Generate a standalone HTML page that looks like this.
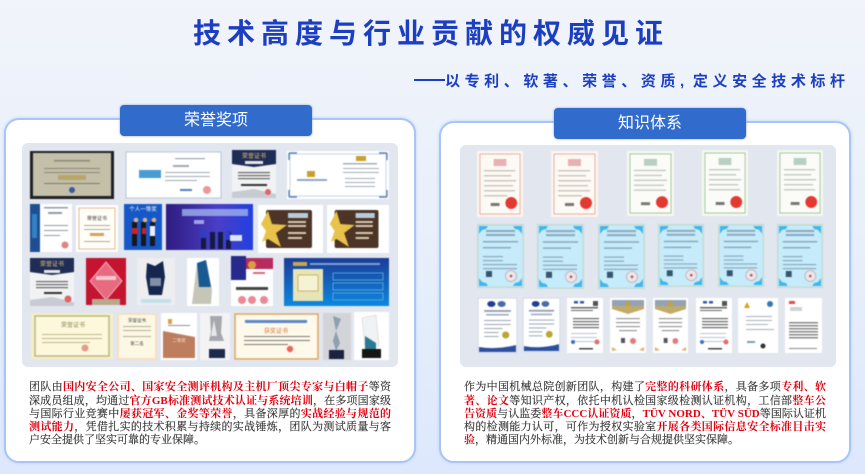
<!DOCTYPE html>
<html lang="zh"><head><meta charset="utf-8"><style>
html,body{margin:0;padding:0}
body{width:865px;height:474px;position:relative;overflow:hidden;background:linear-gradient(180deg,#f1f4fa 0,#e9f0fa 45%,#dde8fc 100%);font-family:"Liberation Sans","Noto Sans CJK SC",sans-serif}
.a{position:absolute}
.card{background:#fff;border:2px solid #a9c5f8;border-radius:15px;box-sizing:border-box;box-shadow:0 0 3px #bcd2fb}
.tab{background:#316ccc;color:#fff;border-radius:4px;font-size:16px;line-height:31px;text-align:center;box-shadow:0 0 2px #7f9fdc}
.panel{background:#e2e6ef;border-radius:6px}
.l{position:absolute;height:14px;font:11px/14px "Liberation Serif","Noto Serif CJK SC",serif;color:#333;text-align:justify;text-align-last:justify;white-space:nowrap;-webkit-text-stroke:.15px #333}
.l b{color:#e00010;font-weight:700;-webkit-text-stroke:0}
</style></head><body>
<div class="a" style="left:193px;top:15px;width:470px;font-size:28px;line-height:38px;font-weight:700;color:#1c3fc2;text-align:justify;text-align-last:justify;white-space:nowrap">技术高度与行业贡献的权威见证</div>
<div class="a" style="left:414px;top:79px;width:31px;height:1.5px;background:#1c3fc2"></div>
<div class="a" style="left:445px;top:71px;width:400px;font-size:15px;line-height:22px;font-weight:700;color:#1c3fc2;text-align:justify;text-align-last:justify;white-space:nowrap">以专利、软著、荣誉、资质, 定义安全技术标杆</div>

<div class="a card" style="left:4px;top:118px;width:412px;height:345px"></div>
<div class="a card" style="left:439px;top:121px;width:412px;height:342px"></div>
<div class="a tab" style="left:120px;top:105px;width:192px;height:31px">荣誉奖项</div>
<div class="a tab" style="left:554px;top:108px;width:192px;height:31px">知识体系</div>
<div class="a panel" style="left:22px;top:143px;width:376px;height:224px"></div>
<div class="a panel" style="left:460px;top:145px;width:376px;height:222px"></div>

<svg class="a" style="left:0;top:0;filter:blur(.5px)" width="865" height="474" viewBox="0 0 865 474" font-family="Liberation Sans,Noto Sans CJK SC,sans-serif">
<defs>
<symbol id="pink" viewBox="0 0 47 66" preserveAspectRatio="none"><rect width="47" height="66" fill="#fdf6ee"/><rect x="3" y="3" width="41" height="60" fill="#fdfaf5" stroke="#e0a090" stroke-width=".8"/><rect x="17" y="8" width="13" height="7" fill="#e8b0b0"/><g fill="#cdc6c0"><rect x="7" y="19" width="32" height="1.5"/><rect x="7" y="24" width="28" height="1.5"/><rect x="7" y="29" width="33" height="1.5"/><rect x="7" y="34" width="30" height="1.5"/><rect x="7" y="39" width="32" height="1.5"/><rect x="7" y="44" width="24" height="1.5"/></g><rect x="14" y="52" width="9" height="3" fill="#777"/><circle cx="35" cy="52" r="6" fill="#e23a30"/></symbol>
<symbol id="green" viewBox="0 0 47 66" preserveAspectRatio="none"><rect width="47" height="66" fill="#f6f7ee"/><rect x="3" y="3" width="41" height="60" fill="#fbfcf7" stroke="#8fbb95" stroke-width=".8"/><rect x="17" y="8" width="13" height="7" fill="#b9cfc4"/><g fill="#c8ccc6"><rect x="7" y="19" width="32" height="1.5"/><rect x="7" y="24" width="28" height="1.5"/><rect x="7" y="29" width="33" height="1.5"/><rect x="7" y="34" width="30" height="1.5"/><rect x="7" y="39" width="32" height="1.5"/></g><rect x="14" y="52" width="9" height="3" fill="#777"/><circle cx="35" cy="52" r="6" fill="#e23a30"/></symbol>
<symbol id="blue" viewBox="0 0 47 64" preserveAspectRatio="none"><rect width="47" height="64" fill="#c4dbd4"/><rect x="1.5" y="1.5" width="44" height="61" fill="#c6ebfa"/><g fill="#42b6ea"><path d="M2 2h9l-2 3-4 1-3 4z"/><path d="M45 2h-9l2 3 4 1 3 4z"/><path d="M2 62h9l-2-3-4-1-3-4z"/><path d="M45 62h-9l2-3 4-1 3-4z"/></g><g fill="#8ba9bd"><rect x="9" y="6" width="29" height="2"/><rect x="9" y="10" width="29" height="2"/><rect x="6" y="17" width="35" height="1.5"/><rect x="6" y="23" width="28" height="1.5"/><rect x="6" y="32" width="20" height="1.2"/><rect x="6" y="36" width="20" height="1.2"/><rect x="6" y="40" width="34" height="1.2"/><rect x="6" y="44" width="34" height="1.2"/></g><rect x="9" y="47" width="6" height="6" fill="#35566d"/><circle cx="34" cy="52" r="5.5" fill="#e5e9ee" stroke="#c9b4bd"/><circle cx="34" cy="52" r="1.3" fill="#e04040"/></symbol>
<symbol id="iso" viewBox="0 0 38 55" preserveAspectRatio="none"><rect width="38" height="55" fill="#fff" stroke="#b8bccc" stroke-width=".8"/><ellipse cx="13" cy="6" rx="4" ry="3" fill="#1f3f96"/><ellipse cx="23" cy="6" rx="4" ry="3" fill="#4a6ba8"/><g fill="#9aa3b8"><rect x="6" y="12" width="26" height="2"/><rect x="8" y="16" width="22" height="1.5"/><rect x="6" y="22" width="26" height="1"/><rect x="6" y="26" width="26" height="1"/><rect x="6" y="30" width="18" height="1"/><rect x="6" y="34" width="14" height="1"/><rect x="6" y="38" width="14" height="1"/></g><circle cx="27" cy="37" r="3.5" fill="#b8a832"/><path d="M1 49q18 3 36-2v7H1z" fill="#2c4f9f"/></symbol>
<symbol id="doc" viewBox="0 0 36 55" preserveAspectRatio="none"><rect width="36" height="55" fill="#fff"/><g fill="#2f5aa8"><rect x="7" y="3" width="4" height="2.5"/><rect x="13" y="3" width="4" height="2.5"/></g><rect x="26" y="3" width="5" height="5" fill="#555"/><g fill="#666"><rect x="4" y="9" width="27" height="1.5"/><rect x="4" y="12" width="22" height="1"/><rect x="6" y="20" width="26" height="1.2"/><rect x="6" y="23" width="26" height="1.2"/><rect x="6" y="26" width="26" height="1.2"/><rect x="6" y="29" width="26" height="1.2"/></g><g fill="#b9c4d6"><rect x="4" y="35" width="26" height="1"/><rect x="4" y="39" width="26" height="1"/><rect x="4" y="43" width="26" height="1"/></g><circle cx="6" cy="44" r="2" fill="#3c6fc0"/><circle cx="30" cy="44" r="2.5" fill="#e86a6a"/><rect x="12" y="50" width="14" height="1.5" fill="#444"/></symbol>
<symbol id="gold" viewBox="0 0 36 55" preserveAspectRatio="none"><rect width="36" height="55" fill="#fff"/><path d="M2 2h32v9l-16 5L2 11z" fill="#c0ab6c"/><path d="M2 2h32v6H2z" fill="#93a3b5"/><circle cx="18" cy="6" r="2.5" fill="#c8a23a"/><g fill="#999"><rect x="6" y="20" width="24" height="1.2"/><rect x="6" y="24" width="24" height="1.2"/><rect x="6" y="28" width="24" height="1.2"/><rect x="9" y="32" width="18" height="1.2"/></g><rect x="11" y="40" width="4" height="5" fill="#556"/><circle cx="23" cy="43" r="3" fill="#e27c7c"/><path d="M2 53l5-1-5-3zM34 53l-5-1 5-3z" fill="#d6b76b"/></symbol>
<symbol id="star" viewBox="0 0 65 48" preserveAspectRatio="none"><rect width="65" height="48" fill="#fff"/><rect x="8" y="5" width="46" height="38" rx="2" fill="#4c3527"/><path d="M10 6l4 13 15 1-11 8 5 14-13-8-6 3 4-11-5-7z" fill="#e8c24a"/><rect x="30" y="8" width="20" height="5" fill="#b8ccd8"/><g fill="#d8c8b0"><rect x="30" y="16" width="18" height="2"/><rect x="30" y="20" width="18" height="2"/><rect x="30" y="27" width="18" height="2"/><rect x="30" y="32" width="14" height="2"/></g></symbol>
</defs>

<!-- left row 1 -->
<rect x="30" y="151" width="84" height="48" fill="#1f2126"/><rect x="33" y="153" width="78" height="43" fill="#c3bfa8"/><g fill="#8a8a78"><rect x="54" y="160" width="36" height="1.5"/><rect x="44" y="168" width="56" height="1"/><rect x="44" y="172" width="56" height="1"/></g><rect x="58" y="175" width="28" height="5" fill="#b7a66a"/><rect x="44" y="183" width="56" height="1" fill="#7d7a70"/><circle cx="72" cy="190" r="3" fill="#3a5c9a"/>
<rect x="126" y="152" width="95" height="46" fill="#fff" stroke="#b9c5d8"/><rect x="139" y="170" width="22" height="8" fill="#4a9bd4"/><g fill="#a0a7b4"><rect x="175" y="158" width="30" height="1.2"/><rect x="173" y="165" width="16" height="2"/><rect x="165" y="172" width="45" height="1"/><rect x="165" y="176" width="45" height="1"/><rect x="165" y="180" width="32" height="1"/></g><circle cx="207" cy="190" r="4" fill="#e69a9a"/><rect x="180" y="189" width="12" height="2" fill="#5a7dbb"/>
<rect x="232" y="150" width="44" height="48" fill="#f1f2f3"/><path d="M232 150h44v14l-22 3-22-3z" fill="#1f2c55"/><text x="254" y="158" text-anchor="middle" font-size="6" fill="#e3c37b">荣誉证书</text><rect x="245" y="161" width="18" height="3" fill="#e8e8e8"/><g fill="#666"><rect x="238" y="172" width="32" height="1.2"/><rect x="238" y="175" width="32" height="1.2"/><rect x="238" y="178" width="32" height="1.2"/></g><rect x="241" y="184" width="26" height="2" fill="#333"/><path d="M232 198v-6l22-3 22 5v4z" fill="#c8ccd2"/><circle cx="268" cy="192" r="3" fill="#dd6666"/>
<rect x="287" y="151" width="102" height="48" fill="#fff"/><rect x="290" y="154" width="96" height="42" fill="none" stroke="#c9d6ea"/><path d="M289 153h8M289 153v7M387 153h-8M387 153v7M289 197h8M289 197v-7M387 197h-8M387 197v-7" stroke="#5d80b8" stroke-width="1.4"/><rect x="307" y="171" width="8" height="6" fill="#c9a030"/><rect x="297" y="179" width="30" height="2" fill="#91a6c8"/><rect x="356" y="156" width="10" height="5" fill="#c9a030"/><g fill="#a4adbb"><rect x="343" y="163" width="34" height="1.5"/><rect x="343" y="168" width="36" height="1"/><rect x="343" y="172" width="36" height="1"/><rect x="345" y="178" width="30" height="1"/><rect x="345" y="182" width="30" height="1"/><rect x="345" y="186" width="30" height="1"/></g>
<!-- left row 2 -->
<rect x="30" y="204" width="42" height="48" fill="#fff"/><rect x="30" y="204" width="10" height="48" fill="#1f4f91"/><rect x="32" y="214" width="5" height="24" fill="#3182c4"/><g fill="#8f99ad"><rect x="44" y="207" width="24" height="1.5"/><rect x="48" y="212" width="14" height="2"/><rect x="44" y="225" width="24" height="1"/><rect x="44" y="230" width="24" height="1"/><rect x="44" y="235" width="16" height="1"/></g><circle cx="65" cy="245" r="3.5" fill="#e08585"/>
<rect x="76" y="205" width="42" height="47" fill="#fff"/><rect x="79" y="208" width="36" height="41" fill="#fffdf8" stroke="#e2ba8c"/><text x="97" y="220" text-anchor="middle" font-size="5" fill="#444">荣誉证书</text><g fill="#b0a898"><rect x="84" y="225" width="26" height="1"/><rect x="84" y="229" width="26" height="1"/></g><rect x="90" y="233" width="14" height="3" fill="#d6a25b"/><rect x="84" y="241" width="26" height="1" fill="#b0a898"/>
<rect x="123" y="203" width="40" height="49" fill="#e8eaef"/><rect x="124" y="204" width="38" height="46" fill="#1658c8"/><text x="143" y="211" text-anchor="middle" font-size="5.5" fill="#fff">个人一等奖</text><g fill="#15181c"><rect x="132" y="222" width="5" height="24"/><rect x="141" y="222" width="5" height="24"/><rect x="150" y="222" width="5" height="24"/></g><circle cx="136" cy="220" r="2.3" fill="#d6b090"/><circle cx="145" cy="220" r="2.3" fill="#d6b090"/><circle cx="154" cy="220" r="2.3" fill="#d6b090"/><rect x="132" y="228" width="6" height="6" fill="#d02020"/><rect x="142" y="228" width="4" height="6" fill="#cc2222"/><rect x="150" y="226" width="5" height="10" fill="#eef"/>
<defs><linearGradient id="vio" x1="0" x2="1"><stop offset="0" stop-color="#2f1c80"/><stop offset=".6" stop-color="#4b3ec8"/><stop offset="1" stop-color="#2140e0"/></linearGradient><linearGradient id="blu" x1="0" x2="0" y1="0" y2="1"><stop offset="0" stop-color="#1b3c97"/><stop offset="1" stop-color="#0c88e0"/></linearGradient></defs>
<rect x="166" y="204" width="87" height="46" fill="url(#vio)"/><rect x="182" y="209" width="66" height="7" fill="#9fb2ee" opacity=".8"/><rect x="194" y="220" width="10" height="4" fill="#c8d2ff" opacity=".7"/><g fill="#141a44"><rect x="201" y="230" width="5" height="19"/><rect x="210" y="232" width="5" height="17"/><rect x="218" y="232" width="5" height="17"/><rect x="226" y="232" width="5" height="17"/></g><rect x="230" y="235" width="12" height="6" fill="#dfe6f6"/><rect x="201" y="229" width="5" height="9" fill="#2a3fc4"/><rect x="226" y="231" width="4" height="9" fill="#2a3fc4"/>
<use href="#star" x="258" y="205" width="65" height="48"/><use href="#star" x="327" y="205" width="62" height="48"/>
<!-- left row 3 -->
<rect x="30" y="258" width="44" height="48" fill="#f1f2f3"/><path d="M30 258h44v14l-22 3-22-3z" fill="#1f2c55"/><text x="52" y="266" text-anchor="middle" font-size="6" fill="#e3c37b">荣誉证书</text><rect x="44" y="270" width="16" height="3" fill="#e8e8e8"/><g fill="#666"><rect x="36" y="281" width="32" height="1.2"/><rect x="36" y="284" width="32" height="1.2"/><rect x="36" y="287" width="32" height="1.2"/></g><rect x="44" y="292" width="18" height="2" fill="#333"/><path d="M30 306v-6l22-3 22 5v4z" fill="#c8ccd2"/><circle cx="68" cy="299" r="3.5" fill="#dd6666"/>
<rect x="86" y="258" width="40" height="47" fill="#c4142f"/><path d="M106 262l16 19-16 19-16-19z" fill="#e86a80" stroke="#f3a8b5"/><rect x="96" y="276" width="20" height="4" fill="#f8c8d0"/><rect x="92" y="299" width="28" height="6" fill="#b9a88c"/>
<rect x="137" y="258" width="38" height="47" fill="#eeeef0"/><path d="M147 263l8 3 8-5 2 16-3 18h-13l-3-18z" fill="#16274f"/><rect x="150" y="278" width="11" height="8" fill="#7f8fa6"/><rect x="141" y="299" width="30" height="4" fill="#c2e0ea"/>
<rect x="187" y="258" width="32" height="48" fill="#fff"/><path d="M197 263l9-3 6 30-1 14h-19z" fill="#c6c6b8"/><path d="M197 263l9-3 5 27h-12z" fill="#1a5a92"/>
<rect x="231" y="258" width="42" height="48" fill="#fff"/><rect x="231" y="256" width="15" height="24" fill="#262a8c"/><path d="M246 258h27v11h-27z" fill="#b92b5e"/><circle cx="252" cy="265" r="4" fill="#d8a040"/><rect x="253" y="272" width="12" height="2" fill="#d06a80"/><rect x="236" y="287" width="32" height="3" fill="#444"/><g fill="#ea8a95"><circle cx="242" cy="300" r="4"/><circle cx="252" cy="300" r="4"/><circle cx="264" cy="300" r="4"/></g>
<rect x="284" y="258" width="105" height="48" fill="url(#blu)"/><rect x="293" y="262" width="14" height="4" fill="#c9a84a"/><rect x="310" y="263" width="70" height="2" fill="#7f9fd8"/><rect x="293" y="269" width="30" height="32" fill="#e8e4b8"/><rect x="298" y="275" width="20" height="16" fill="#f6f2d4" stroke="#c9b86e"/><g stroke="#5fb0e0" stroke-width=".8" fill="none"><rect x="333" y="273" width="50" height="7"/><rect x="333" y="283" width="50" height="7"/><rect x="333" y="293" width="50" height="7"/></g>
<!-- left row 4 -->
<rect x="31" y="313" width="82" height="46" fill="#f5eec8"/><rect x="35" y="316" width="74" height="40" fill="#fdf8dc" stroke="#b9ba82" stroke-width="1.5"/><text x="73" y="327" text-anchor="middle" font-size="6" fill="#868a55">荣誉证书</text><g fill="#bdb88c"><rect x="42" y="334" width="60" height="1"/><rect x="42" y="338" width="60" height="1"/><rect x="42" y="342" width="48" height="1"/></g><circle cx="85" cy="348" r="3.5" fill="#e89a8c"/>
<rect x="117" y="313" width="40" height="47" fill="#f8dfc0"/><rect x="119" y="315" width="36" height="43" fill="#fdf8e4"/><text x="137" y="322" text-anchor="middle" font-size="4.5" fill="#444">荣誉证书</text><g fill="#b5ad98"><rect x="123" y="326" width="28" height="1"/><rect x="123" y="330" width="28" height="1"/><rect x="123" y="336" width="28" height="1"/></g><text x="137" y="345" text-anchor="middle" font-size="4.5" fill="#444">第二名</text>
<rect x="161" y="313" width="36" height="47" fill="#fff"/><rect x="163" y="331" width="32" height="27" fill="#bd7d5e"/><path d="M163 331l32 6v-6z" fill="#fff"/><rect x="168" y="319" width="4" height="5" fill="#e0a040"/><rect x="168" y="325" width="22" height="1" fill="#8a92a8"/><text x="179" y="342" text-anchor="middle" font-size="4.5" fill="#fbe4d6">二等奖</text>
<rect x="200" y="313" width="30" height="47" fill="#f3f3f4"/><path d="M210 316h12l-1 17 3 8h-15l2-9z" fill="#a5a8ad"/><path d="M214 320l3 16h-6z" fill="#e6e8ec"/><rect x="209" y="349" width="16" height="9" fill="#1d2b4c"/>
<rect x="234" y="313" width="85" height="47" fill="#fff"/><rect x="235" y="314" width="83" height="45" fill="#fff9ec" stroke="#d8a35e" stroke-width="1.5"/><rect x="245" y="320" width="62" height="3" fill="#5c87c9"/><text x="276" y="333" text-anchor="middle" font-size="6" fill="#cc7a3a">获奖证书</text><g fill="#7a7872"><rect x="244" y="336" width="66" height="1"/><rect x="244" y="340" width="66" height="1"/><rect x="244" y="344" width="44" height="1"/></g><circle cx="290" cy="349" r="3.2" fill="#e26a5a"/>
<rect x="323" y="313" width="28" height="47" fill="#d3d4d8"/><path d="M333 316l8 3-5 12 4 12-4 8-3-10 3-10z" fill="#8ca0b0"/><rect x="329" y="350" width="15" height="9" fill="#1a2240"/>
<rect x="354" y="312" width="35" height="48" fill="#fff"/><path d="M362 318l14-3 3 31h-14z" fill="#f1f2f3" stroke="#cccccc" stroke-width=".5"/><path d="M365 336l11 7v6h-11z" fill="#2a7a92"/><rect x="362" y="349" width="19" height="9" fill="#161616"/>

<!-- right -->
<use href="#pink" x="477" y="151" width="46" height="66"/><use href="#pink" x="551" y="151" width="47" height="66"/><use href="#green" x="627" y="151" width="47" height="65"/><use href="#green" x="702" y="150" width="46" height="66"/><use href="#green" x="777" y="150" width="46" height="66"/>
<use href="#blue" x="477" y="224" width="47" height="64"/><use href="#blue" x="537" y="224" width="47" height="65"/><use href="#blue" x="598" y="224" width="47" height="65"/><use href="#blue" x="658" y="224" width="46" height="63"/><use href="#blue" x="718" y="224" width="46" height="63"/><use href="#blue" x="777" y="224" width="46" height="64"/>
<use href="#iso" x="478" y="298" width="39" height="55"/><use href="#iso" x="523" y="298" width="37" height="54"/><use href="#doc" x="567" y="298" width="36" height="55"/><use href="#gold" x="610" y="298" width="36" height="55"/><use href="#gold" x="653" y="298" width="35" height="55"/><use href="#doc" x="696" y="298" width="36" height="55"/>
<rect x="738" y="298" width="40" height="55" fill="#fff"/><path d="M747 302l3 6h-6z" fill="#d8a020"/><circle cx="770" cy="304" r="3" fill="#3877b5"/><g fill="#aab0bb"><rect x="746" y="316" width="26" height="1"/><rect x="746" y="320" width="26" height="1"/><rect x="746" y="324" width="22" height="1"/><rect x="746" y="329" width="28" height="1"/></g><rect x="747" y="341" width="8" height="2" fill="#7f99c4"/><circle cx="763" cy="346" r="2.5" fill="#333"/>
<rect x="785" y="298" width="37" height="55" fill="#fff"/><rect x="789" y="301" width="6" height="3" fill="#d85050"/><rect x="790" y="307" width="12" height="4" fill="#cfd2d6"/><g fill="#888"><rect x="789" y="322" width="29" height="1.5"/><rect x="789" y="325" width="29" height="1.5"/><rect x="789" y="328" width="29" height="1.5"/><rect x="789" y="331" width="29" height="1.5"/><rect x="789" y="334" width="29" height="1.5"/><rect x="789" y="337" width="29" height="1.5"/></g><rect x="789" y="348" width="28" height="1" fill="#888"/>
</svg>

<div class="l" style="left:29px;top:380px;width:362px">团队由<b>国内安全公司、国家安全测评机构及主机厂顶尖专家与白帽子</b>等资</div>
<div class="l" style="left:29px;top:394px;width:362px">深成员组成，均通过<b>官方GB标准测试技术认证与系统培训</b>，在多项国家级</div>
<div class="l" style="left:29px;top:407px;width:362px">与国际行业竞赛中<b>屡获冠军、金奖等荣誉</b>，具备深厚的<b>实战经验与规范的</b></div>
<div class="l" style="left:29px;top:420px;width:362px"><b>测试能力</b>，凭借扎实的技术积累与持续的实战锤炼，团队为测试质量与客</div>
<div class="l" style="left:29px;top:433px;text-align-last:left">户安全提供了坚实可靠的专业保障。</div>

<div class="l" style="left:464px;top:380px;width:362px">作为中国机械总院创新团队，构建了<b>完整的科研体系</b>，具备多项<b>专利、软</b></div>
<div class="l" style="left:464px;top:394px;width:362px"><b>著、论文</b>等知识产权，依托中机认检国家级检测认证机构，工信部<b>整车公</b></div>
<div class="l" style="left:464px;top:407px;width:362px"><b>告资质</b>与认监委<b>整车CCC认证资质</b>，<b>TÜV NORD、TÜV SÜD</b>等国际认证机</div>
<div class="l" style="left:464px;top:420px;width:362px">构的检测能力认可，可作为授权实验室<b>开展各类国际信息安全标准目击实</b></div>
<div class="l" style="left:464px;top:433px;text-align-last:left"><b>验</b>，精通国内外标准，为技术创新与合规提供坚实保障。</div>
</body></html>
